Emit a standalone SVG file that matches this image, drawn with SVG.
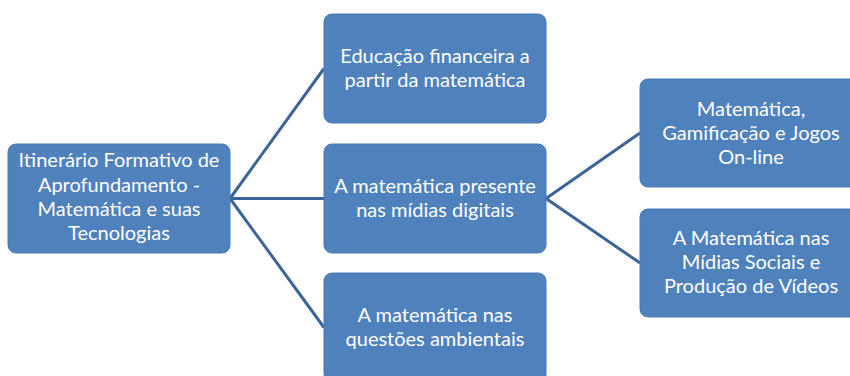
<svg xmlns="http://www.w3.org/2000/svg" width="850" height="376" viewBox="0 0 850 376">
<style>
.box{fill:#4F81BD;stroke:#4A7AB5;stroke-width:1}
.t{font-family:Lato,"Open Sans","Liberation Sans",sans-serif;font-size:20px;fill:#FFFFFF;text-anchor:middle}
.c{stroke:#3C6497;stroke-width:3;fill:none}
</style>
<rect width="850" height="376" fill="#FFFFFF"/>
<g id="connectors">
<path class="c" d="M230,198.5 L324,68.5 M230,198.5 L324,198.5 M230,198.5 L324,327.5"/>
<path class="c" d="M546,198.5 L640,133 M546,198.5 L640,263"/>
</g>
<g id="root">
<rect class="box" x="8" y="144" width="222" height="109" rx="8"/>
<text class="t" x="119" y="167">Itinerário Formativo de</text>
<text class="t" x="119" y="191.5">Aprofundamento -</text>
<text class="t" x="119" y="216">Matemática e suas</text>
<text class="t" x="119" y="240">Tecnologias</text>
</g>
<g id="n1">
<rect class="box" x="324" y="14" width="222" height="109" rx="8"/>
<text class="t" x="435" y="63">Educação financeira a</text>
<text class="t" x="435" y="87">partir da matemática</text>
</g>
<g id="n2">
<rect class="box" x="324" y="144" width="222" height="109" rx="8"/>
<text class="t" x="435" y="192.5">A matemática presente</text>
<text class="t" x="435" y="216.5">nas mídias digitais</text>
</g>
<g id="n3">
<rect class="box" x="324" y="273" width="222" height="109" rx="8"/>
<text class="t" x="435" y="321.5">A matemática nas</text>
<text class="t" x="435" y="345.5">questões ambientais</text>
</g>
<g id="n4">
<rect class="box" x="640" y="79" width="222" height="108" rx="8"/>
<text class="t" x="751" y="115.5">Matemática,</text>
<text class="t" x="751" y="140">Gamificação e Jogos</text>
<text class="t" x="751" y="164">On-line</text>
</g>
<g id="n5">
<rect class="box" x="640" y="209" width="222" height="108" rx="8"/>
<text class="t" x="751" y="245">A Matemática nas</text>
<text class="t" x="751" y="269">Mídias Sociais e</text>
<text class="t" x="751" y="293">Produção de Vídeos</text>
</g>
</svg>
